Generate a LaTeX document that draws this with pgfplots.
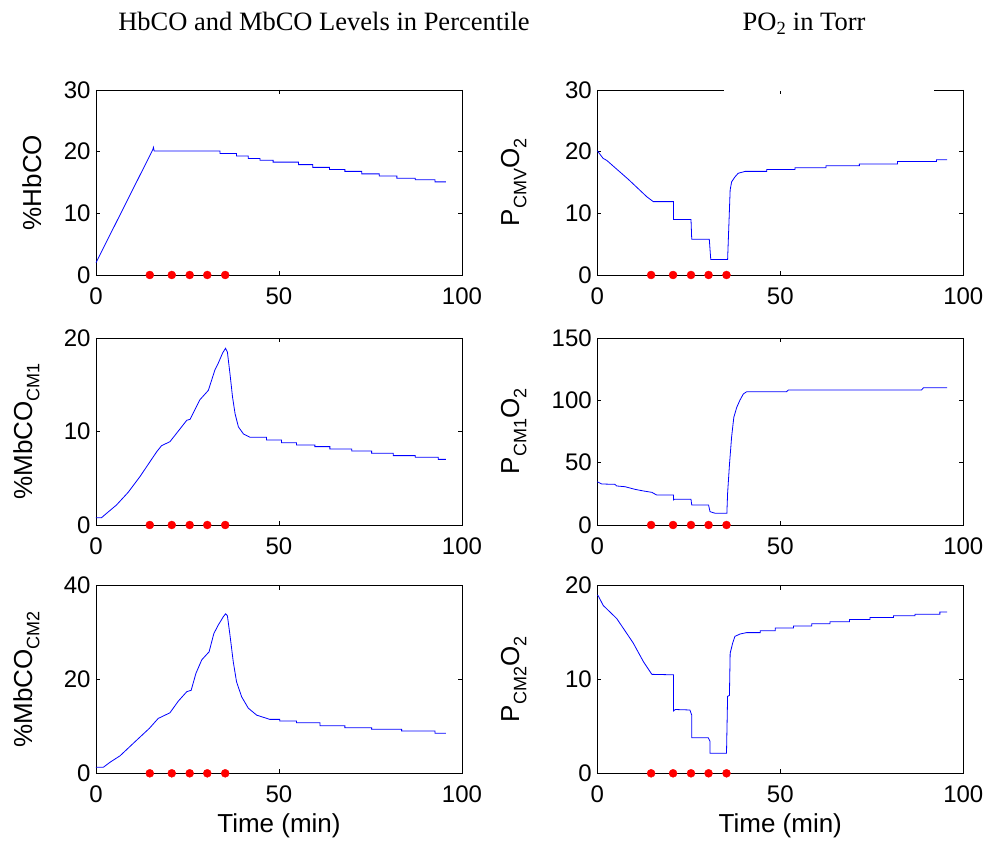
\documentclass[border=0pt]{standalone}
\usepackage{fontspec}
\setmainfont{Liberation Serif}
\newfontfamily\hv{Liberation Sans}
\usepackage{pgfplots}
\pgfplotsset{compat=1.18}
\newcommand\sub[1]{\raisebox{-0.28em}{\fontsize{18}{18}\selectfont #1}}
\pgfplotsset{
  panel/.style={
    width=366pt, scale only axis,
    xmin=0, xmax=100, xtick={0,50,100},
    tick align=inside, major tick length=4pt,
    axis line style={line width=0.8pt, black},
    every tick/.style={black, line width=0.6pt},
    tick label style={font=\hv\fontsize{24}{24}\selectfont},
    xticklabel style={yshift=-9pt},
    yticklabel style={xshift=-2pt},
    label style={font=\hv\fontsize{26}{26}\selectfont},
    xlabel style={yshift=-4pt},
    /pgf/number format/assume math mode=true,
    clip=false,
    axis background/.style={fill=white},
  },
  dataline/.style={blue, line width=0.8pt, mark=none},
  dots/.style={only marks, mark=*, mark size=4pt, red, mark options={draw=red, fill=red}},
}
\begin{document}
\begin{tikzpicture}
\path[use as bounding box] (0pt,0pt) rectangle (990pt,846pt);
\node[font=\fontsize{26.5}{26.5}\selectfont, anchor=base] at (324pt,815.3pt) {HbCO and MbCO Levels in Percentile};
\node[font=\fontsize{26.5}{26.5}\selectfont, anchor=base] at (804pt,815.3pt) {PO\textsubscript{2} in Torr};

% Row 1 left
\begin{axis}[panel, at={(96pt,571pt)}, anchor=south west, height=185pt,
  ymin=0, ymax=30, ytick={0,10,20,30},
  ylabel={\%HbCO}, ylabel style={at={(axis description cs:-0.175,0.5)}, anchor=center}]
\addplot[dataline] coordinates {(0,2.0)(15.5,20.3)(15.7,20.7)(15.9,20.1)(33.9,20.1)(33.9,19.7)(38.4,19.7)(38.4,19.3)(41.6,19.3)(41.6,18.9)(44.8,18.9)(44.8,18.6)(48.4,18.6)(48.4,18.3)(55.3,18.3)(55.3,17.9)(59.2,17.9)(59.2,17.45)(63.8,17.45)(63.8,17.1)(68.0,17.1)(68.0,16.8)(72.6,16.8)(72.6,16.4)(77.4,16.4)(77.4,16.05)(82.2,16.05)(82.2,15.7)(87.2,15.7)(87.2,15.45)(92.6,15.45)(92.6,15.1)(95.6,15.1)};
\addplot[dots] coordinates {(14.7,0)(20.7,0)(25.6,0)(30.4,0)(35.3,0)};
\end{axis}

% Row 1 right
\begin{axis}[panel, name=tr, at={(597.3pt,571pt)}, anchor=south west, height=185pt,
  ymin=0, ymax=30, ytick={0,10,20,30},
  ylabel={P\sub{CMV}O\sub{2}}, ylabel style={at={(axis description cs:-0.228,0.5)}, anchor=center}]
\addplot[dataline] coordinates {(0,20.15)(1.6,18.9)(2.55,18.6)(8.5,15.5)(13.5,12.7)(15.3,11.9)(20.8,11.9)(20.8,9.0)(25.6,9.0)(25.8,5.8)(30.6,5.8)(31.0,2.5)(35.6,2.5)(36.3,13.8)(36.7,15.1)(37.6,15.9)(38.5,16.5)(40.4,16.8)(46.3,16.8)(46.3,17.1)(54.0,17.1)(54.0,17.4)(62.5,17.4)(62.5,17.7)(71.6,17.7)(71.6,18.0)(82.0,18.0)(82.0,18.4)(92.7,18.4)(92.7,18.7)(95.6,18.7)};
\addplot[dots] coordinates {(14.7,0)(20.7,0)(25.6,0)(30.4,0)(35.3,0)};
\end{axis}
\draw[white, line width=1.6pt] ([xshift=127pt]tr.north west) -- ([xshift=337pt]tr.north west);

% Row 2 left
\begin{axis}[panel, at={(96pt,321pt)}, anchor=south west, height=187pt,
  ymin=0, ymax=20, ytick={0,10,20},
  ylabel={\%MbCO\sub{CM1}}, ylabel style={at={(axis description cs:-0.19,0.5)}, anchor=center}]
\addplot[dataline] coordinates {(0,0.78)(1.5,0.78)(2.9,1.25)(5.6,2.14)(8.8,3.5)(12.0,5.17)(14.75,6.77)(16.6,7.84)(17.9,8.48)(20.2,8.91)(23.0,10.3)(24.8,11.2)(25.7,11.3)(28.4,13.4)(30.7,14.4)(32.5,16.6)(33.4,17.3)(34.6,18.4)(35.4,18.9)(35.9,18.5)(36.6,16.2)(37.3,13.7)(38.0,11.9)(38.9,10.5)(40.3,9.73)(42.1,9.38)(46.6,9.38)(46.6,9.09)(50.7,9.09)(50.7,8.8)(54.8,8.8)(54.8,8.56)(59.8,8.56)(59.8,8.38)(63.9,8.38)(63.9,8.13)(69.9,8.13)(69.9,7.92)(75.3,7.92)(75.3,7.67)(81.2,7.67)(81.2,7.42)(87.2,7.42)(87.2,7.24)(93.5,7.24)(93.5,7.02)(95.6,7.02)};
\addplot[dots] coordinates {(14.7,0)(20.7,0)(25.6,0)(30.4,0)(35.3,0)};
\end{axis}

% Row 2 right
\begin{axis}[panel, at={(597.3pt,321pt)}, anchor=south west, height=187pt,
  ymin=0, ymax=150, ytick={0,50,100,150},
  ylabel={P\sub{CM1}O\sub{2}}, ylabel style={at={(axis description cs:-0.228,0.5)}, anchor=center}]
\addplot[dataline] coordinates {(0,34.7)(1.2,32.9)(4.8,32.6)(5.3,31.3)(7.6,30.7)(10.3,28.6)(12.6,27.3)(14.9,26.2)(16.2,24.1)(20.8,24.1)(20.8,20.1)(21.0,20.6)(25.6,20.6)(25.8,16.0)(30.4,16.0)(30.8,10.7)(32.2,9.4)(35.4,9.4)(35.6,25.4)(36.1,48.1)(36.7,70.8)(37.3,86.4)(38.1,94.4)(39.0,100.3)(39.9,105.1)(40.8,106.9)(51.7,106.9)(52.2,108.3)(88.6,108.3)(89.1,110.1)(95.6,110.1)};
\addplot[dots] coordinates {(14.7,0)(20.7,0)(25.6,0)(30.4,0)(35.3,0)};
\end{axis}

% Row 3 left
\begin{axis}[panel, at={(96pt,72.7pt)}, anchor=south west, height=187.6pt,
  ymin=0, ymax=40, ytick={0,20,40},
  xlabel={Time (min)},
  ylabel={\%MbCO\sub{CM2}}, ylabel style={at={(axis description cs:-0.19,0.5)}, anchor=center}]
\addplot[dataline] coordinates {(0,1.28)(2.0,1.28)(3.8,2.34)(6.6,3.75)(10.2,6.4)(14.6,9.6)(17.0,11.7)(20.2,12.9)(22.5,15.4)(24.8,17.4)(26.0,17.7)(27.3,21.3)(28.9,24.2)(30.9,25.9)(32.2,29.8)(33.4,31.6)(34.8,33.4)(35.4,34.0)(35.9,33.6)(36.6,29.5)(37.5,23.8)(38.4,19.5)(39.8,16.3)(41.6,13.9)(43.9,12.4)(47.5,11.5)(50.2,11.5)(50.2,11.15)(54.8,11.15)(54.8,10.8)(61.2,10.8)(61.2,10.15)(68.0,10.15)(68.0,9.72)(75.3,9.72)(75.3,9.38)(83.5,9.38)(83.5,9.02)(92.6,9.02)(92.6,8.53)(95.6,8.53)};
\addplot[dots] coordinates {(14.7,0)(20.7,0)(25.6,0)(30.4,0)(35.3,0)};
\end{axis}

% Row 3 right
\begin{axis}[panel, at={(597.3pt,72.7pt)}, anchor=south west, height=187.6pt,
  ymin=0, ymax=20, ytick={0,10,20},
  xlabel={Time (min)},
  ylabel={P\sub{CM2}O\sub{2}}, ylabel style={at={(axis description cs:-0.228,0.5)}, anchor=center}]
\addplot[dataline] coordinates {(0,19.0)(0.3,18.9)(1.6,17.9)(5.3,16.5)(9.8,13.9)(12.6,11.9)(14.9,10.55)(20.8,10.5)(20.8,6.64)(21.3,6.8)(25.3,6.75)(25.8,6.2)(25.8,3.8)(30.3,3.8)(30.8,3.4)(30.8,2.13)(35.3,2.13)(35.6,8.2)(36.1,8.3)(36.3,12.8)(37.0,13.9)(37.6,14.6)(39.0,14.85)(40.8,15.0)(44.5,15.0)(44.5,15.2)(48.6,15.2)(48.6,15.5)(53.6,15.5)(53.6,15.7)(58.6,15.7)(58.6,15.95)(63.6,15.95)(63.6,16.16)(68.9,16.16)(68.9,16.4)(74.5,16.4)(74.5,16.6)(80.9,16.6)(80.9,16.8)(86.8,16.8)(86.8,16.95)(93.6,16.95)(93.6,17.2)(95.6,17.2)};
\addplot[dots] coordinates {(14.7,0)(20.7,0)(25.6,0)(30.4,0)(35.3,0)};
\end{axis}
\end{tikzpicture}
\end{document}
